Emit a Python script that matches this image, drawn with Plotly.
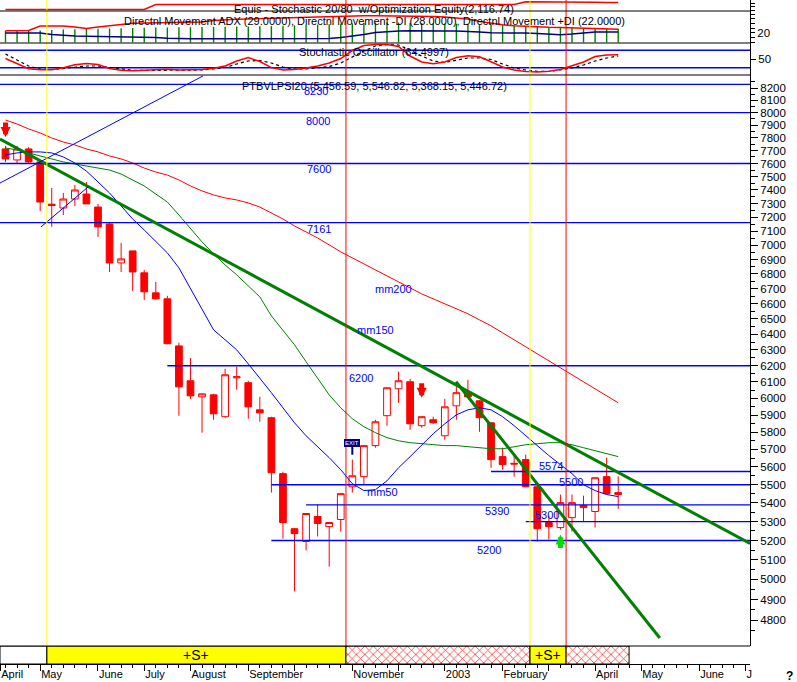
import math
import pandas as pd
import plotly.graph_objects as go

# ---------------- data (weekly bars, PSI20) ----------------
first_bar = pd.Timestamp("2002-04-12")
n_bars = 54


def bar_date(k):
    return first_bar + pd.Timedelta(days=7.0 * k)


dates = [bar_date(k) for k in range(n_bars)]

opens = [7712, 7627, 7712, 7612, 7295, 7267, 7333, 7370, 7274, 7151,
         6876, 6960, 6808, 6672, 6632, 6325, 6107, 6009, 6021, 5890,
         6125, 6095, 5931, 5884, 5562, 5262, 5195, 5327, 5273, 5311,
         5489, 5545, 5721, 5896, 6058, 6101, 5837, 5872, 5778, 5955,
         6034, 5985, 5854, 5658, 5620, 5641, 5489, 5295, 5268, 5321,
         5386, 5354, 5545, 5456.59]
highs = [7735, 7735, 7727, 7620, 7415, 7378, 7437, 7460, 7297, 7166,
         7016, 6960, 6828, 6746, 6652, 6345, 6249, 6030, 6027, 6181,
         6194, 6107, 6009, 5890, 5573, 5265, 5346, 5391, 5298, 5455,
         5641, 5724, 5872, 6067, 6163, 6119, 5893, 5890, 5997, 6070,
         6113, 5988, 5857, 5709, 5675, 5669, 5492, 5332, 5446, 5446,
         5440, 5542, 5652, 5546.82]
lows = [7612, 7604, 7597, 7245, 7130, 7216, 7282, 7297, 7058, 6814,
        6814, 6685, 6625, 6628, 6335, 5896, 5997, 5796, 5872, 5885,
        6052, 5878, 5860, 5457, 5210, 4940, 5148, 5221, 5065, 5247,
        5457, 5500, 5709, 5837, 5973, 5813, 5825, 5848, 5755, 5872,
        6005, 5801, 5595, 5584, 5545, 5486, 5195, 5205, 5257, 5247,
        5300, 5268, 5448, 5368.15]
closes = [7635, 7712, 7612, 7311, 7285, 7333, 7400, 7297, 7130, 6876,
          6904, 6814, 6679, 6632, 6339, 6070, 6015, 6027, 5907, 6144,
          6132, 5949, 5913, 5567, 5295, 5236, 5343, 5290, 5295, 5451,
          5550, 5721, 5860, 6064, 6107, 5848, 5890, 5854, 5949, 6034,
          6009, 5884, 5641, 5613, 5616, 5489, 5262, 5273, 5402, 5402,
          5375, 5539, 5451, 5446.72]

mm200 = [7940, 7908, 7869, 7837, 7798, 7766, 7743, 7712, 7689, 7658,
         7635, 7604, 7565, 7535, 7512, 7475, 7430, 7393, 7363, 7341,
         7326, 7304, 7274, 7230, 7187, 7137, 7094, 7051, 7002, 6953,
         6911, 6869, 6828, 6787, 6746, 6706, 6665, 6632, 6599, 6566,
         6533, 6493, 6454, 6409, 6364, 6319, 6275, 6231, 6187, 6144,
         6101, 6058, 6015, 5973]
mm150 = [7720, 7704, 7681, 7658, 7635, 7612, 7596, 7581, 7565, 7550,
         7520, 7475, 7430, 7370, 7311, 7216, 7115, 7023, 6939, 6862,
         6794, 6719, 6645, 6519, 6428, 6332, 6225, 6119, 6021, 5943,
         5878, 5831, 5796, 5767, 5749, 5738, 5732, 5726, 5721, 5721,
         5715, 5709, 5703, 5703, 5715, 5726, 5732, 5738, 5738, 5726,
         5709, 5692, 5675, 5658]
mm50 = [7666, 7681, 7689, 7689, 7681, 7650, 7604, 7542, 7460, 7378,
        7282, 7187, 7108, 7023, 6946, 6842, 6699, 6559, 6428, 6364,
        6300, 6212, 6125, 6034, 5943, 5854, 5778, 5715, 5652, 5584,
        5506, 5468, 5473, 5522, 5595, 5658, 5726, 5790, 5848, 5901,
        5931, 5943, 5931, 5890, 5837, 5778, 5721, 5664, 5613, 5562,
        5500, 5468, 5446, 5435]

stoch_k = [51.7, 34.5, 16.3, 13.2, 13.2, 19.8, 30.4, 34.9, 31.1, 17.3,
           11.2, 9.8, 11.2, 12.9, 14.6, 12.2, 12.2, 14.3, 18.4, 25.9,
           43.1, 55.2, 41.4, 20.4, 12.2, 13.9, 19.1, 25.9, 36.3, 51.7,
           79.2, 96.1, 99.5, 100.0, 93.0, 60.3, 39.7, 33.8, 39.7, 55.2,
           61.0, 57.6, 40.4, 22.5, 12.2, 7.0, 5.3, 7.7, 13.9, 25.9,
           39.7, 58.6, 64.0, 64.4997]
stoch_d = [67.2, 46.6, 25.9, 15.6, 13.9, 17.3, 22.5, 25.9, 25.9, 20.8,
           13.9, 11.2, 10.5, 10.5, 12.2, 12.2, 12.2, 12.2, 15.6, 20.8,
           32.8, 43.1, 44.8, 36.3, 22.5, 15.6, 15.6, 19.1, 24.2, 36.3,
           56.9, 77.5, 94.7, 99.8, 98.1, 81.0, 60.3, 43.1, 38.0, 44.8,
           53.4, 53.4, 48.3, 32.8, 19.1, 12.2, 7.7, 7.0, 12.2, 19.1,
           29.4, 43.1, 53.4, 60.3]

adx = [24.8, 24.8, 25.0, 25.5, 26.5, 27.5, 28.0, 28.4, 28.8, 29.5,
       30.0, 30.5, 31.0, 31.4, 31.8, 32.0, 32.3, 32.7, 33.0, 33.3,
       33.7, 34.0, 34.4, 35.0, 35.6, 36.3, 37.0, 37.8, 38.5, 39.5,
       40.5, 41.5, 42.2, 42.4, 42.2, 41.8, 41.4, 41.0, 40.4, 39.8,
       39.0, 38.2, 37.3, 36.4, 35.5, 34.5, 33.5, 32.6, 31.7, 31.0,
       30.3, 29.8, 29.4, 29.0]
minus_di = [24.8, 24.8, 25.2, 34.8, 35.2, 34.8, 32.6, 29.4, 32.6, 35.8,
            38.0, 40.5, 41.1, 41.1, 41.6, 42.2, 43.3, 43.3, 46.5, 48.6,
            49.2, 49.7, 50.5, 51.4, 52.2, 52.9, 53.3, 53.9, 54.6, 55.0,
            56.0, 56.7, 56.7, 56.5, 56.0, 56.0, 55.6, 55.0, 53.9, 51.8,
            49.7, 44.3, 40.1, 37.3, 35.2, 33.7, 32.6, 32.0, 31.6, 30.9,
            30.5, 29.9, 29.4, 28.0]
plus_di = [19.9, 19.9, 19.9, 19.9, 16.7, 14.6, 13.5, 12.9, 12.4, 12.4,
           12.4, 12.4, 11.4, 10.3, 8.8, 7.5, 7.5, 7.5, 7.5, 7.5,
           7.5, 7.5, 7.5, 7.5, 7.5, 7.5, 7.5, 7.5, 8.2, 10.3,
           12.9, 16.7, 20.9, 23.1, 24.1, 24.8, 24.1, 24.1, 24.1, 24.1,
           23.5, 22.0, 20.5, 20.5, 20.5, 19.9, 18.8, 17.1, 16.3, 17.7,
           19.4, 22.0, 22.0, 22.0]

equity = [1074, 1074, 1074, 1074, 1074, 1074, 1074, 1074, 1074, 1074,
          1074, 1074, 1074, 1819, 1819, 1819, 1819, 1819, 1819, 1819,
          1819, 1819, 1819, 1819, 1819, 1819, 1819, 1819, 1819, 1819,
          1819, 1819, 1819, 1819, 1819, 1819, 1819, 1819, 1819, 1819,
          1819, 1819, 1819, 1819, 1819, 2236, 2236, 2236, 2236, 2236,
          2236, 2161, 2117, 2116.74]

# horizontal support / resistance levels and the bar where each starts
x_left, x_right = -0.476, 64.4
levels = [8230, 8000, 7600, 7161, 6200, 5574, 5500, 5390, 5300, 5200]
level_start = [x_left, x_left, x_left, x_left, 14, 42, 23, 26, 45, 23]

# drawn trend lines: (bar0, price0, bar1, price1, color, width)
trend_lines = [
    (x_left, 7790, x_right, 5184, "#008000", 3),
    (38.97, 6101, 56.6, 4714, "#008000", 3),
    (x_left, 7452, 17.08, 8300, "#0000ff", 1),
    (3.07, 7130, 7.14, 7422, "#0000ff", 1),
]

# text labels on the price chart: (text, bar, price)
price_labels = [("8230", 25.65, 8175), ("8000", 25.82, 7932), ("7600", 25.91, 7557),
                ("7161", 25.91, 7115), ("6200", 29.54, 6126), ("5574", 45.98, 5603),
                ("5500", 47.71, 5517), ("5390", 41.31, 5358), ("5300", 45.63, 5337),
                ("5200", 40.61, 5148), ("mm200", 31.79, 6699), ("mm150", 30.23, 6428),
                ("mm50", 31.1, 5462)]

# expert-advisor signals (bar positions) and ribbon states
signal_pos = [3.58, 29.45, 45.37, 48.49]
signal_col = ["#ffff00", "#ff0000", "#ffff00", "#ff0000"]
ribbon_bounds = [x_left, 3.58, 29.45, 45.37, 48.49, 53.94]
ribbon_state = ["none", "short", "flat", "short", "flat"]

# arrows: (bar, tip price, direction, color)
arrows = [(0, 7806, "down", "#ff0000"), (36, 6003, "down", "#ff0000"),
          (48, 5231, "up", "#00dd00")]

month_tick_bars = [-0.46, 3, 8, 12, 16, 21, 25, 30, 34, 38, 43, 47, 51, 55, 60, 64]
month_labels = ["April", "May", "June", "July", "August", "September", "", "November",
                "", "2003", "February", "", "April", "May", "June", "J"]

price_ticks = list(range(4800, 8201, 100))
price_minor = list(range(4650, 8301, 100))

# ---------------- figure ----------------
W, H = 797, 682
MT, MB, ML, MR = 0, 18, 0, 47
ph = H - MT - MB
dom_rib = [0, (664 - 646) / ph]
dom_price = [dom_rib[1], (664 - 75) / ph]
dom_sto = [dom_price[1], (664 - 43) / ph]
dom_adx = [dom_sto[1], (664 - 11) / ph]
dom_eq = [dom_adx[1], 1.0]

RED = "#ff0000"
BLUE = "#0000ff"
GREEN = "#008000"
NAVY = "#000080"
FONT = "Liberation Sans, Arial, sans-serif"

fig = go.Figure()

# ribbon
for a, b, st in zip(ribbon_bounds[:-1], ribbon_bounds[1:], ribbon_state):
    center = bar_date((a + b) / 2)
    width_ms = (b - a) * 7 * 86400000
    marker = dict(color="white", line=dict(color="black", width=1))
    if st == "short":
        marker["color"] = "#ffff00"
    elif st == "flat":
        marker["pattern"] = dict(shape="x", fgcolor=RED, bgcolor="white", size=6, solidity=0.2)
    fig.add_trace(go.Bar(x=[center], y=[1], base=0, width=[width_ms], marker=marker,
                         xaxis="x", yaxis="y5", showlegend=False, hoverinfo="skip"))

# candles
fig.add_trace(go.Candlestick(
    x=dates, open=opens, high=highs, low=lows, close=closes,
    increasing=dict(line=dict(color=RED, width=1), fillcolor="#ffffff"),
    decreasing=dict(line=dict(color=RED, width=1), fillcolor=RED),
    whiskerwidth=0, xaxis="x", yaxis="y", showlegend=False))

# moving averages
for vals, col in [(mm200, RED), (mm150, GREEN), (mm50, BLUE)]:
    fig.add_trace(go.Scatter(x=dates, y=vals, mode="lines", line=dict(color=col, width=1),
                             xaxis="x", yaxis="y", showlegend=False, hoverinfo="skip"))

# horizontal levels
for lv, st in zip(levels, level_start):
    fig.add_trace(go.Scatter(x=[bar_date(st), bar_date(x_right)], y=[lv, lv], mode="lines",
                             line=dict(color=BLUE, width=1.3), xaxis="x", yaxis="y",
                             showlegend=False, hoverinfo="skip"))

# trend lines
for b0, p0, b1, p1, col, w in trend_lines:
    fig.add_trace(go.Scatter(x=[bar_date(b0), bar_date(b1)], y=[p0, p1], mode="lines",
                             line=dict(color=col, width=w), xaxis="x", yaxis="y",
                             showlegend=False, hoverinfo="skip"))

# stochastic
for lv in [80, 20]:
    fig.add_trace(go.Scatter(x=[bar_date(x_left), bar_date(x_right)], y=[lv, lv], mode="lines",
                             line=dict(color=BLUE, width=1.3), xaxis="x", yaxis="y2",
                             showlegend=False, hoverinfo="skip"))
fig.add_trace(go.Scatter(x=dates, y=stoch_d, mode="lines", line=dict(color="black", width=1.2, dash="dot"),
                         xaxis="x", yaxis="y2", showlegend=False, hoverinfo="skip"))
fig.add_trace(go.Scatter(x=dates, y=stoch_k, mode="lines", line=dict(color=RED, width=1.5),
                         xaxis="x", yaxis="y2", showlegend=False, hoverinfo="skip"))

# ADX / DI
fig.add_trace(go.Bar(x=dates, y=adx, base=0, width=[1.4 / 11.56 * 7 * 86400000] * n_bars,
                     marker=dict(color=GREEN, line=dict(width=0)), xaxis="x", yaxis="y3",
                     showlegend=False, hoverinfo="skip"))
fig.add_trace(go.Scatter(x=dates, y=plus_di, mode="lines", line=dict(color=NAVY, width=1.5),
                         xaxis="x", yaxis="y3", showlegend=False, hoverinfo="skip"))
fig.add_trace(go.Scatter(x=dates, y=minus_di, mode="lines", line=dict(color=RED, width=1.5),
                         xaxis="x", yaxis="y3", showlegend=False, hoverinfo="skip"))

# equity
fig.add_trace(go.Scatter(x=dates, y=equity, mode="lines", line=dict(color=RED, width=1.5),
                         xaxis="x", yaxis="y4", showlegend=False, hoverinfo="skip"))

# shapes: signal verticals and panel separators
shapes = []
for pos, col in zip(signal_pos, signal_col):
    shapes.append(dict(type="line", xref="x", yref="paper", x0=bar_date(pos), x1=bar_date(pos),
                       y0=dom_rib[1], y1=1, line=dict(color=col, width=1), layer="above"))
for yy in [dom_rib[1], dom_price[1], dom_sto[1], dom_adx[1]]:
    shapes.append(dict(type="line", xref="paper", yref="paper", x0=0, x1=1, y0=yy, y1=yy,
                       line=dict(color="black", width=1), layer="above"))

annotations = []
# panel titles
titles = [("Equis - Stochastic 20/80  w/Optimization Equity(2,116.74)", 9),
          ("Directnl Movement ADX (29.0000), Directnl Movement -DI (28.0000), Directnl Movement +DI (22.0000)", 21),
          ("Stochastic Oscillator (64.4997)", 52),
          ("PTBVLPSI20 (5,456.59, 5,546.82, 5,368.15, 5,446.72)", 86)]
for txt, ypx in titles:
    annotations.append(dict(text=txt, xref="paper", yref="paper", x=0.4993, y=(664 - ypx) / ph,
                            xanchor="center", yanchor="middle", showarrow=False,
                            font=dict(size=11, color="black", family=FONT)))

for txt, b, p in price_labels:
    annotations.append(dict(text=txt, xref="x", yref="y", x=bar_date(b), y=math.log10(p),
                            xanchor="left", yanchor="middle", showarrow=False,
                            font=dict(size=11, color=BLUE, family=FONT)))

for b, p, d, col in arrows:
    annotations.append(dict(text="", xref="x", yref="y", x=dates[b], y=math.log10(p),
                            showarrow=True, ax=0, ay=(-16 if d == "down" else 15),
                            arrowhead=2, arrowsize=0.4, arrowwidth=5, arrowcolor=col, standoff=0))

# exit marker
annotations.append(dict(text="EXIT", xref="x", yref="y", x=dates[30], y=math.log10(5669),
                        showarrow=True, ax=0, ay=-12, arrowhead=0, arrowwidth=2, arrowcolor=NAVY,
                        bgcolor=NAVY, bordercolor=NAVY, borderpad=0,
                        font=dict(size=6, color="white", family=FONT)))

# ribbon texts
for a, b, st in zip(ribbon_bounds[:-1], ribbon_bounds[1:], ribbon_state):
    if st == "short":
        annotations.append(dict(text="+S+", xref="x", yref="y5", x=bar_date((a + b) / 2), y=0.5,
                                xanchor="center", yanchor="middle", showarrow=False,
                                font=dict(size=14, color="black", family=FONT)))

annotations.append(dict(text="<b>?</b>", xref="paper", yref="paper", x=790 / 750, y=(664 - 676) / ph,
                        xanchor="center", yanchor="middle", showarrow=False,
                        font=dict(size=12, color="black", family=FONT)))

common_y = dict(showgrid=False, zeroline=False, side="right", anchor="x", automargin=False,
                showline=True, linecolor="black", linewidth=1, ticks="outside", tickcolor="black",
                tickfont=dict(size=11.5, color="black", family=FONT), fixedrange=True)

fig.update_layout(
    width=W, height=H, autosize=False,
    margin=dict(l=ML, r=MR, t=MT, b=MB, pad=0),
    paper_bgcolor="white", plot_bgcolor="white",
    template="none", showlegend=False,
    barmode="overlay", boxgap=0.17,
    font=dict(family=FONT, size=11, color="black"),
    shapes=shapes, annotations=annotations,
    xaxis=dict(type="date", domain=[0, 1], anchor="y5", automargin=False,
               range=[bar_date(x_left), bar_date(x_right)],
               rangeslider=dict(visible=False),
               tickmode="array", tickvals=[bar_date(b) for b in month_tick_bars], ticktext=month_labels,
               ticks="outside", ticklen=6, tickcolor="black", ticklabelposition="outside right",
               minor=dict(dtick=7 * 86400000, tick0=first_bar, ticks="outside", ticklen=3, tickcolor="black"),
               showline=True, linecolor="black", linewidth=1, showgrid=False, zeroline=False,
               tickfont=dict(size=11, color="black", family=FONT)),
    yaxis=dict(domain=dom_price, type="log", range=[math.log10(4676), math.log10(8308)],
               tickmode="array", tickvals=price_ticks, ticktext=[str(v) for v in price_ticks],
               ticklen=7, minor=dict(tickmode="array", tickvals=price_minor, ticks="outside",
                                     ticklen=4, tickcolor="black"), **common_y),
    yaxis2=dict(domain=dom_sto, range=[-5, 105], tickmode="array", tickvals=[50], ticktext=["50"],
                ticklen=5, **common_y),
    yaxis3=dict(domain=dom_adx, range=[-1.3, 66.7], tickmode="array", tickvals=[0, 10, 20, 30, 40, 50, 60],
                ticktext=["", "", "20", "", "", "", ""], ticklen=4, **common_y),
    yaxis4=dict(domain=dom_eq, range=[851, 2489], tickmode="array", tickvals=[1000, 1500, 2000],
                ticktext=["", "", ""], ticklen=4, **common_y),
    yaxis5=dict(domain=dom_rib, range=[0, 1], showticklabels=False, showgrid=False, zeroline=False,
                showline=False, ticks="", anchor="x", fixedrange=True),
)

fig.write_html("out.html", config={"displayModeBar": False, "staticPlot": True},
               post_script="document.body.style.margin='0px';document.body.style.padding='0px';")
